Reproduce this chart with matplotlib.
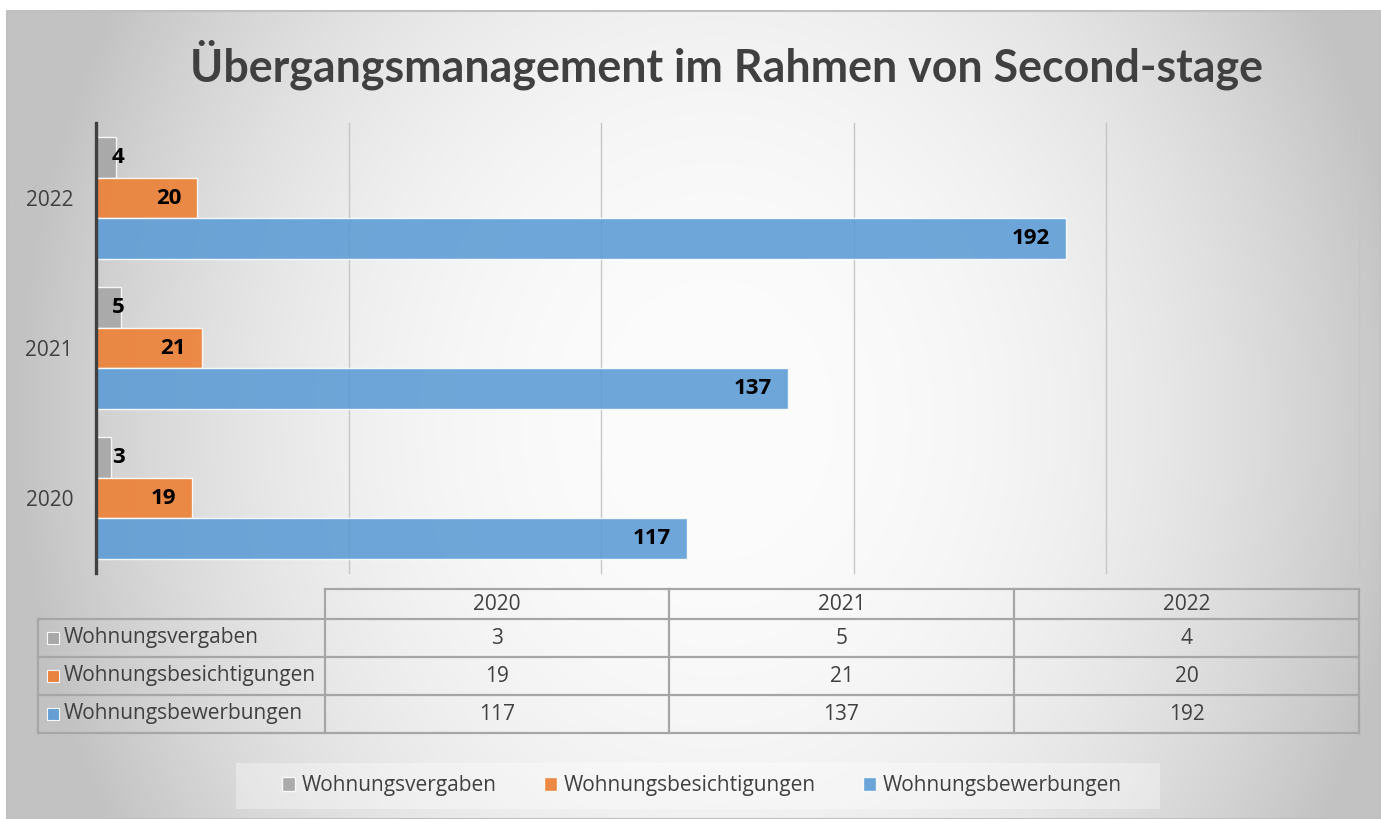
import numpy as np
import matplotlib
matplotlib.use("Agg")
import matplotlib.pyplot as plt
from matplotlib.patches import Rectangle, Patch
from matplotlib.lines import Line2D

plt.rcParams['font.family'] = ['Open Sans', 'DejaVu Sans']

# ---- data ----
years = ['2020', '2021', '2022']
series_names = ['Wohnungsvergaben', 'Wohnungsbesichtigungen', 'Wohnungsbewerbungen']
vergaben = [3, 5, 4]
besichtigungen = [19, 21, 20]
bewerbungen = [117, 137, 192]
title = 'Übergangsmanagement im Rahmen von Second-stage'

series_values = [vergaben, besichtigungen, bewerbungen]
colors = ['#a5a5a5', '#ed7d31', '#5b9bd5']
text_col = '#404040'

W, H = 1381, 819
fig = plt.figure(figsize=(W / 100, H / 100), dpi=100)
fig.patch.set_facecolor('white')

def fx(px):
    return px / W

def fy(py):
    return 1 - py / H

# ---- background radial gradient ----
bg = fig.add_axes([fx(7), 0, 1 - fx(7), fy(11)], zorder=-10)
xs = np.linspace(7, W, 460)
ys = np.linspace(11, H, 280)
X, Y = np.meshgrid(xs, ys)
cx, cy = 715, 420
r = np.sqrt((X - cx) ** 2 + (0.85 * (Y - cy)) ** 2) / 640
drop = np.minimum(47 * r ** 2.3, 58)
val = np.clip((252 - drop) / 255, 0, 1)
img = np.dstack([val, val, val])
bg.imshow(img, aspect='auto', extent=[0, 1, 0, 1], origin='upper', interpolation='bilinear')
bg.set_xlim(0, 1); bg.set_ylim(0, 1)
bg.axis('off')
fig.add_artist(Rectangle((fx(7), 0), 1 - fx(7), fy(11), transform=fig.transFigure,
                         fill=False, edgecolor='#c0c0c0', lw=1.5, zorder=-5))

# ---- main axes ----
ax = fig.add_axes([fx(96), fy(573), fx(1359) - fx(96), fy(123) - fy(573)])
ax.set_facecolor('none')
n = len(years)
ypos = np.arange(n)
bh = 0.27
offsets = [bh, 0, -bh]
for vals, col, off in zip(series_values, colors, offsets):
    bars = ax.barh(ypos + off, vals, height=bh, color=col, alpha=0.88,
                   edgecolor=(1, 1, 1, 0.6), linewidth=1.0, zorder=3)
    for b, v in zip(bars, vals):
        yc = b.get_y() + b.get_height() / 2
        if v < 10:
            ax.annotate(str(v), xy=(0, yc), xytext=(11.5, 0), textcoords='offset points',
                        ha='left', va='center', fontsize=16, fontweight='bold',
                        color='black', zorder=5)
        else:
            ax.annotate(str(v), xy=(v, yc), xytext=(-11.5, 0), textcoords='offset points',
                        ha='right', va='center', fontsize=16, fontweight='bold',
                        color='black', zorder=5)

ax.set_xlim(0, 250)
ax.set_ylim(-0.5, n - 0.5)
ax.set_xticks([0, 50, 100, 150, 200, 250])
ax.set_xticklabels([])
ax.tick_params(axis='x', length=0)
ax.set_yticks(ypos)
ax.set_yticklabels(years, fontsize=15, color=text_col)
ax.tick_params(axis='y', length=0, pad=16.5)
ax.grid(axis='x', color='#c6c6c6', lw=1.0, zorder=0)
for gl in ax.get_xgridlines():
    gl.set_clip_on(False)
for s in ['top', 'right', 'bottom']:
    ax.spines[s].set_visible(False)
ax.spines['left'].set_color('#404040')
ax.spines['left'].set_linewidth(2.4)
ax.spines['left'].set_zorder(6)

# ---- title ----
fig.text(fx(726), fy(81), title, ha='center', va='baseline', fontsize=32.2,
         fontweight='bold', color=text_col, family=['Lato', 'DejaVu Sans'])

# ---- data table (pixel coordinates) ----
tax = fig.add_axes([0, 0, 1, 1], zorder=8)
tax.set_xlim(0, W); tax.set_ylim(H, 0)
tax.axis('off')
col_edges = [38, 325, 669, 1014, 1359]
row_edges = [589, 619, 657, 695, 733]
lc = '#a6a6a6'
lw = 1.6
tax.add_line(Line2D([col_edges[1], col_edges[-1]], [row_edges[0]] * 2, color=lc, lw=lw))
for yy in row_edges[1:]:
    tax.add_line(Line2D([col_edges[0], col_edges[-1]], [yy, yy], color=lc, lw=lw))
tax.add_line(Line2D([col_edges[0]] * 2, [row_edges[1], row_edges[-1]], color=lc, lw=lw))
for xx in col_edges[1:]:
    tax.add_line(Line2D([xx, xx], [row_edges[0], row_edges[-1]], color=lc, lw=lw))
tfs = 15
for j, yr in enumerate(years):
    xc = (col_edges[j + 1] + col_edges[j + 2]) / 2
    tax.text(xc, (row_edges[0] + row_edges[1]) / 2 + 1, yr, ha='center', va='center',
             fontsize=tfs, color=text_col)
for i, (name, vals, col) in enumerate(zip(series_names, series_values, colors)):
    yc = (row_edges[i + 1] + row_edges[i + 2]) / 2
    tax.add_patch(Rectangle((47, yc - 6), 12, 12, facecolor=col, alpha=0.9,
                            edgecolor=(1, 1, 1, 0.7), lw=0.8))
    tax.text(64, yc, name, ha='left', va='center', fontsize=tfs, color=text_col)
    for j, v in enumerate(vals):
        xc = (col_edges[j + 1] + col_edges[j + 2]) / 2
        tax.text(xc, yc, str(v), ha='center', va='center', fontsize=tfs, color=text_col)

# ---- legend ----
tax.add_patch(Rectangle((236, 763), 924, 46, facecolor='white', alpha=0.35,
                        edgecolor='none', zorder=0))
handles = [Patch(facecolor=c, edgecolor=(1, 1, 1, 0.7), alpha=0.9) for c in colors]
leg = tax.legend(handles, series_names, loc='center', bbox_to_anchor=(702, 786),
                 bbox_transform=tax.transData,
                 ncol=3, fontsize=15, frameon=False, handlelength=0.63, handleheight=0.63,
                 handletextpad=0.33, columnspacing=2.26, labelcolor=text_col)
leg.set_zorder(10)

fig.savefig('out.png', dpi=100)
